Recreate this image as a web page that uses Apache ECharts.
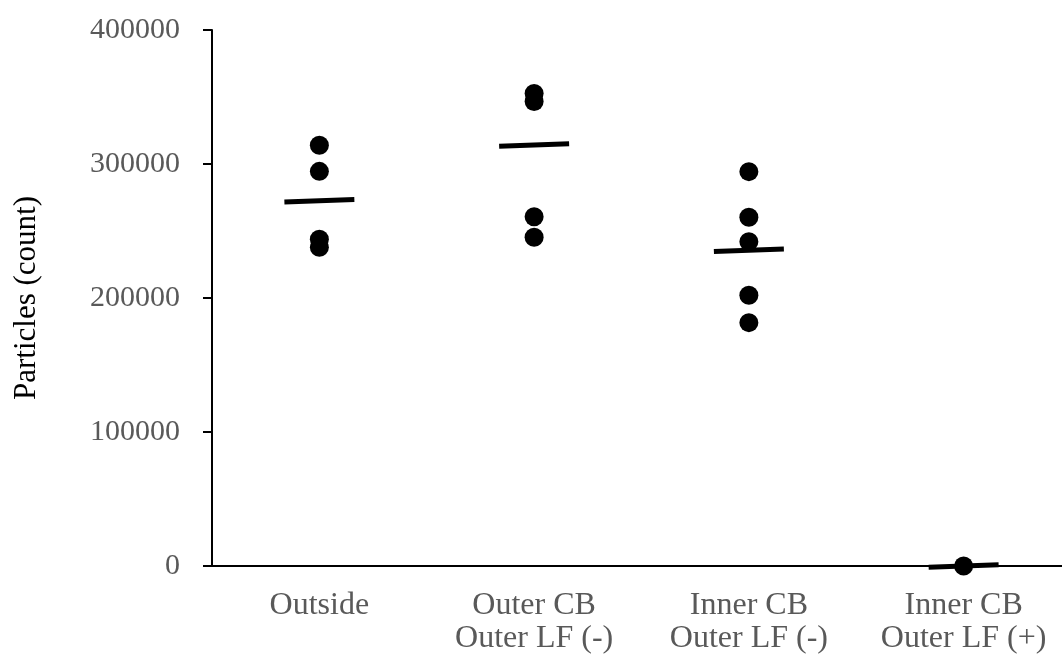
<!DOCTYPE html>
<html>
<head>
<meta charset="utf-8">
<script src="https://cdn.jsdelivr.net/npm/echarts@6/dist/echarts.min.js"></script>
<style>
html,body{margin:0;padding:0;background:#fff;}
#chart{width:1062px;height:655px;}
</style>
</head>
<body>
<div id="chart"></div>
<script>
const categories = ['Outside', 'Outer CB\nOuter LF (-)', 'Inner CB\nOuter LF (-)', 'Inner CB\nOuter LF (+)'];
const outsideValues = [314000, 294500, 243800, 237800];
const outerCBValues = [352700, 346700, 260700, 245300];
const innerCBMinusValues = [294300, 260200, 242000, 202000, 181600];
const innerCBPlusValues = [0];
const meanValues = [272600, 314200, 235600, 0];
const yTicks = { min: 0, max: 400000, interval: 100000 };
const yTitle = 'Particles (count)';

const groups = [outsideValues, outerCBValues, innerCBMinusValues, innerCBPlusValues];
const pointData = [];
groups.forEach((vals, i) => vals.forEach(v => pointData.push([i, v])));
const meanData = meanValues.map((v, i) => [i, v]);

const font = '"Liberation Serif", "Times New Roman", serif';
const chart = echarts.init(document.getElementById('chart'), null, { renderer: 'canvas' });
chart.setOption({
  animation: false,
  backgroundColor: '#ffffff',
  grid: { left: 212, right: -9, top: 30, bottom: 89, containLabel: false, outerBoundsMode: 'none' },
  xAxis: {
    type: 'category',
    data: categories,
    boundaryGap: true,
    axisLine: { show: true, lineStyle: { color: '#000', width: 2 } },
    axisTick: { show: false },
    axisLabel: {
      color: '#595959', fontFamily: font, fontSize: 32, lineHeight: 33,
      margin: 23, interval: 0
    },
    splitLine: { show: false }
  },
  yAxis: {
    type: 'value',
    min: yTicks.min, max: yTicks.max, interval: yTicks.interval,
    name: yTitle,
    nameLocation: 'middle',
    nameGap: 170,
    nameRotate: 90,
    nameTextStyle: { color: '#000', fontFamily: font, fontSize: 31 },
    axisLine: { show: true, lineStyle: { color: '#000', width: 2 } },
    axisTick: { show: true, inside: false, length: 9, lineStyle: { color: '#000', width: 2 } },
    axisLabel: {
      color: '#595959', fontFamily: font, fontSize: 30, margin: 32,
      formatter: v => String(v)
    },
    splitLine: { show: false }
  },
  series: [
    {
      type: 'scatter',
      name: 'points',
      data: pointData,
      symbol: 'circle',
      symbolSize: 19,
      itemStyle: { color: '#000', opacity: 1 },
      emphasis: { disabled: true },
      z: 2
    },
    {
      type: 'scatter',
      name: 'mean',
      data: meanData,
      symbol: 'rect',
      symbolSize: [70, 5],
      symbolRotate: 2,
      itemStyle: { color: '#000', opacity: 1 },
      emphasis: { disabled: true },
      z: 3
    }
  ]
});
</script>
</body>
</html>
